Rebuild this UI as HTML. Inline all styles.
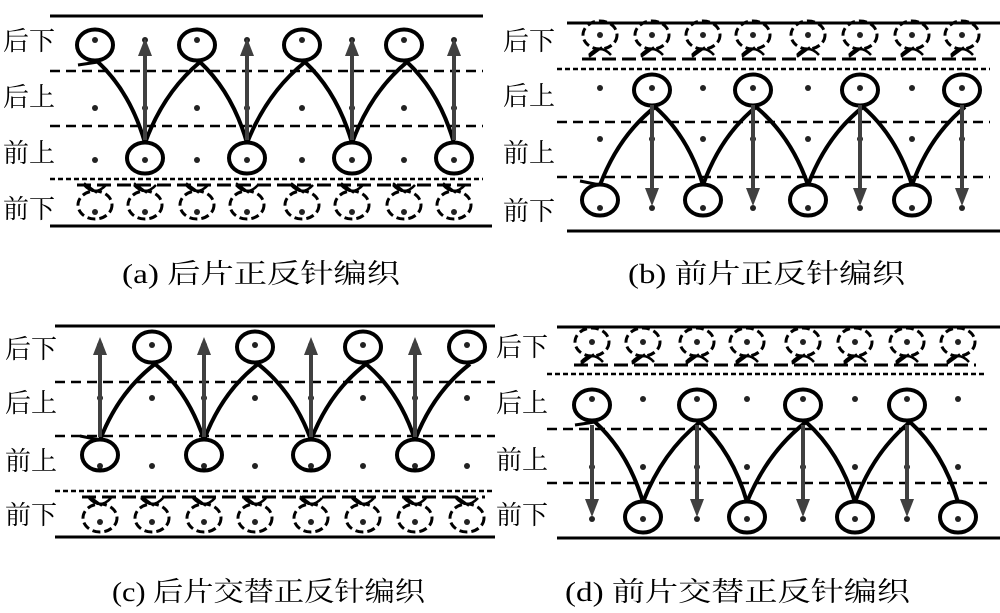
<!DOCTYPE html>
<html><head><meta charset="utf-8"><style>
html,body{margin:0;padding:0;background:#fff;}
svg{display:block}
text{font-family:"Liberation Serif","Noto Serif CJK SC",serif;fill:#000}
</style></head><body>
<svg id="s" width="1000" height="613" viewBox="0 0 1000 613" xmlns="http://www.w3.org/2000/svg">
<g font-size="26">
<text x="3" y="50">后下</text><text x="3" y="106">后上</text><text x="3" y="162">前上</text><text x="3" y="218">前下</text>
<text x="503" y="50">后下</text><text x="503" y="105">后上</text><text x="503" y="162">前上</text><text x="503" y="220">前下</text>
<text x="5" y="358">后下</text><text x="5" y="412">后上</text><text x="5" y="470">前上</text><text x="5" y="524">前下</text>
<text x="496" y="356">后下</text><text x="496" y="412">后上</text><text x="496" y="469">前上</text><text x="496" y="524">前下</text>
</g>
<g font-size="27">
<text x="122" y="283" textLength="278" lengthAdjust="spacingAndGlyphs">(a) 后片正反针编织</text>
<text x="628" y="283" textLength="277" lengthAdjust="spacingAndGlyphs">(b) 前片正反针编织</text>
<text x="112" y="601" textLength="313" lengthAdjust="spacingAndGlyphs">(c) 后片交替正反针编织</text>
<text x="565" y="601" textLength="345" lengthAdjust="spacingAndGlyphs">(d) 前片交替正反针编织</text>
</g>
<g id="g"></g>
</svg>
<script>
var g=document.getElementById('g'),NS='http://www.w3.org/2000/svg';
function el(t,a){var e=document.createElementNS(NS,t);for(var k in a)e.setAttribute(k,a[k]);g.appendChild(e);return e;}
function line(x1,y1,x2,y2,w,dash){el('line',{x1:x1,y1:y1,x2:x2,y2:y2,stroke:'#000','stroke-width':w,'stroke-dasharray':dash||'none'});}
function dot(x,y){el('circle',{cx:x,cy:y,r:3,fill:'#222'});}
function loop(x,y){el('ellipse',{cx:x,cy:y,rx:18,ry:15.5,fill:'none',stroke:'#000','stroke-width':4});}
function dloop(x,y,up){el('ellipse',{cx:x,cy:y,rx:17,ry:14,fill:'none',stroke:'#000','stroke-width':3,'stroke-dasharray':'8 4'});
 var yy=up?y-14:y+14, d=up?-6:6;
 el('path',{d:'M'+(x-11)+','+(yy+d)+' Q'+x+','+(yy-d)+' '+(x+11)+','+(yy+d)+' M'+(x-11)+','+(yy+d*1.3)+' L'+(x+2)+','+(yy-d*0.3),stroke:'#000','stroke-width':2.5,fill:'none'});}
function curve(x1,y1,x2,y2){var mx=(x1+x2)/2,my=(y1+y2)/2;var dx=x2-x1;var cx=mx+(dx>0?9:-9)*(y2>y1?1:-1),cy=my-10;
 el('path',{d:'M'+x1+','+y1+' Q'+cx+','+cy+' '+x2+','+y2,stroke:'#000','stroke-width':4,fill:'none'});}
function arrow(x,y1,y2){var s=y2<y1?1:-1;var hy=y2+s*18;
 el('line',{x1:x,y1:y1,x2:x,y2:hy,stroke:'#404040','stroke-width':4});
 el('polygon',{points:(x-7)+','+hy+' '+(x+7)+','+hy+' '+x+','+y2,fill:'#404040'});}
function panel(o){
 line(o.x0,o.top,o.x1,o.top,3);
 line(o.x0,o.bot,o.x1,o.bot,3);
 o.dash.forEach(function(y,i){line(o.dx0,y,o.dx1,y,2.5,i==o.fine?'5 3':'10 6');});
 var c=o.cols,r=o.rows;
 c.forEach(function(x){r.forEach(function(y){dot(x,y);});});
 c.forEach(function(x){dloop(x,o.dl,o.dlUp);});
 line(c[0]-18,o.dlLine,c[7]+18,o.dlLine,3,'14 6');
 var tops=[],bots=[];
 for(var i=0;i<8;i++){ if((i%2==0)==o.topEven) tops.push(i); else bots.push(i);}
 tops.forEach(function(i){loop(c[i],o.tl);});
 bots.forEach(function(i){loop(c[i],o.bl);});
 var pts=[];for(var i=0;i<8;i++){var t=tops.indexOf(i)>=0;pts.push([c[i]+(t?3:0),t?o.tl+17:o.bl-15]);}
 for(var i=0;i<7;i++)curve(pts[i][0],pts[i][1],pts[i+1][0],pts[i+1][1]);
 var p0=pts[0];el('path',{d:'M'+(p0[0]-20)+','+(p0[1]+(tops.indexOf(0)>=0?3:-4))+' L'+p0[0]+','+p0[1],stroke:'#000','stroke-width':3});
 o.arrows.forEach(function(i){arrow(c[i],o.a1,o.a2);});
}
panel({x0:50,x1:483,top:16,bot:226,dx0:50,dx1:483,dash:[71,126,179],fine:2,cols:[95,145,197,247,302,352,404,454],rows:[40,108,160,212],
 dl:205,dlUp:true,dlLine:185,topEven:true,tl:45,bl:158,arrows:[1,3,5,7],a1:140,a2:38});
line(60,226,492,226,3);
panel({x0:567,x1:1000,top:23,bot:231,dx0:557,dx1:990,dash:[69,122,177],fine:0,cols:[600,652,703,753,808,860,912,962],rows:[35,88,139,208],
 dl:35,dlUp:false,dlLine:59,topEven:false,tl:90,bl:200,arrows:[1,3,5,7],a1:105,a2:206});
panel({x0:55,x1:495,top:326,bot:537,dx0:55,dx1:495,dash:[382,436,491],fine:2,cols:[100,152,204,255,311,363,415,467],rows:[345,398,466,522],
 dl:518,dlUp:true,dlLine:497,topEven:false,tl:347,bl:455,arrows:[0,2,4,6],a1:437,a2:337});
panel({x0:557,x1:1000,top:327,bot:538,dx0:547,dx1:987,dash:[374,429,483],fine:0,cols:[592,643,697,747,803,855,907,958],rows:[342,399,467,519],
 dl:342,dlUp:false,dlLine:365,topEven:true,tl:405,bl:517,arrows:[0,2,4,6],a1:425,a2:517});
</script>
</body></html>
